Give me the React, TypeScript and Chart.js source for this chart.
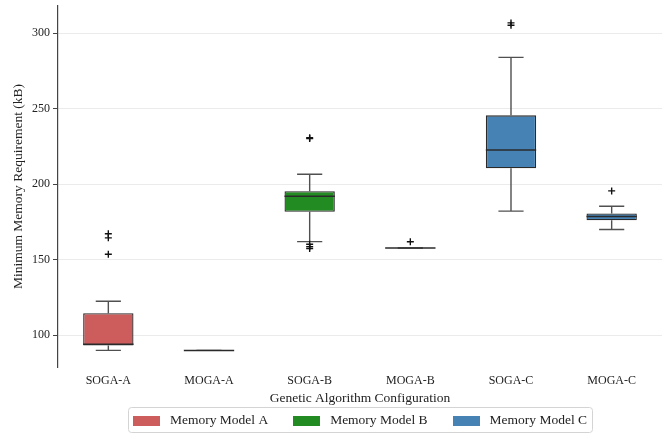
import React, { useEffect, useRef } from "react";
import { Chart, registerables } from "chart.js";

Chart.register(...registerables);

const categories = ["SOGA-A", "MOGA-A", "SOGA-B", "MOGA-B", "SOGA-C", "MOGA-C"];
const whiskerLow = [90, 90, 162, 157.8, 182.2, 170];
const q1 = [93.2, 90, 181.8, 157.8, 210.6, 176.2];
const medians = [94, 90, 192.1, 157.8, 222.6, 178.6];
const q3 = [114.6, 90, 195.4, 157.8, 245.6, 180.6];
const whiskerHigh = [122.5, 90, 206.6, 157.8, 284, 185.4];
const outlierCats = ["SOGA-A", "SOGA-A", "SOGA-A", "SOGA-B", "SOGA-B", "SOGA-B", "SOGA-B", "SOGA-B", "MOGA-B", "SOGA-C", "SOGA-C", "MOGA-C"];
const outlierVals = [153.6, 164.5, 167.2, 230.2, 230.8, 160.3, 158.6, 157.4, 161.9, 305.3, 306.8, 195.6];
const groupNames = ["Memory Model A", "Memory Model B", "Memory Model C"];
const groupColors = ["#cd5c5c", "#228b22", "#4682b4"];
const groupOfCategory = [0, 0, 1, 1, 2, 2];
const yMin = 79;
const yMax = 318;
const yTicks = [100, 150, 200, 250, 300];

const FONT = "'Liberation Serif', serif";
const LEGEND_FONT_SIZE = 13.5;

const boxPlugin = {
  id: "boxParts",
  beforeDatasetsDraw(chart: any) {
    const ctx = chart.ctx;
    const x = chart.scales.x;
    const y = chart.scales.y;
    const barW = (x.width / categories.length) * 0.5;
    ctx.save();
    ctx.strokeStyle = "#505050";
    ctx.lineWidth = 1.4;
    categories.forEach((c, i) => {
      const cx = x.getPixelForValue(i);
      const yl = y.getPixelForValue(whiskerLow[i]);
      const yq1 = y.getPixelForValue(q1[i]);
      const yq3 = y.getPixelForValue(q3[i]);
      const yh = y.getPixelForValue(whiskerHigh[i]);
      ctx.beginPath();
      ctx.moveTo(cx, yl);
      ctx.lineTo(cx, yq1);
      ctx.moveTo(cx, yq3);
      ctx.lineTo(cx, yh);
      ctx.moveTo(cx - barW / 4, yl);
      ctx.lineTo(cx + barW / 4, yl);
      ctx.moveTo(cx - barW / 4, yh);
      ctx.lineTo(cx + barW / 4, yh);
      ctx.stroke();
    });
    ctx.restore();
  },
  afterDatasetsDraw(chart: any) {
    const ctx = chart.ctx;
    const x = chart.scales.x;
    const y = chart.scales.y;
    const barW = (x.width / categories.length) * 0.5;
    ctx.save();
    ctx.strokeStyle = "#2a2a2a";
    ctx.lineWidth = 1.5;
    categories.forEach((c, i) => {
      const cx = x.getPixelForValue(i);
      const ym = y.getPixelForValue(medians[i]);
      ctx.beginPath();
      ctx.moveTo(cx - barW / 2, ym);
      ctx.lineTo(cx + barW / 2, ym);
      ctx.stroke();
    });
    ctx.restore();
  },
  afterDraw(chart: any) {
    // Legend below the plot, centred on the plot area
    const ctx = chart.ctx;
    const area = chart.chartArea;
    ctx.save();
    ctx.font = `${LEGEND_FONT_SIZE}px ${FONT}`;
    const rectW = 27, rectH = 10, gapText = 10, gapItem = 25, padX = 5;
    const widths = groupNames.map((n) => ctx.measureText(n).width);
    const total = widths.reduce((a, w) => a + rectW + gapText + w, 0) + gapItem * (groupNames.length - 1);
    const cxMid = (area.left + area.right) / 2;
    const boxL = cxMid - total / 2 - padX;
    const boxT = 407;
    const boxH = 25;
    const boxW = total + padX * 2;
    ctx.strokeStyle = "#d4d4d4";
    ctx.lineWidth = 1;
    ctx.fillStyle = "#ffffff";
    ctx.beginPath();
    if (ctx.roundRect) ctx.roundRect(Math.round(boxL) + 0.5, boxT + 0.5, Math.round(boxW), boxH, 3);
    else ctx.rect(Math.round(boxL) + 0.5, boxT + 0.5, Math.round(boxW), boxH);
    ctx.fill();
    ctx.stroke();
    let xPos = boxL + padX;
    const midY = boxT + boxH / 2 + 1;
    groupNames.forEach((n, g) => {
      ctx.fillStyle = groupColors[g];
      ctx.fillRect(Math.round(xPos), Math.round(midY - rectH / 2), rectW, rectH);
      ctx.fillStyle = "#222";
      ctx.textBaseline = "middle";
      ctx.textAlign = "left";
      ctx.fillText(n, xPos + rectW + gapText, midY);
      xPos += rectW + gapText + widths[g] + gapItem;
    });
    ctx.restore();
  },
};

export default function App() {
  const ref = useRef<HTMLCanvasElement | null>(null);
  useEffect(() => {
    if (!ref.current) return;
    const boxDatasets = groupNames.map((name, g) => ({
      type: "bar" as const,
      label: name,
      data: categories.map((c, i) => (groupOfCategory[i] === g ? [q1[i], q3[i]] : null)),
      backgroundColor: groupColors[g],
      borderColor: "#2a2a2a",
      borderWidth: 1.3,
      borderSkipped: false,
      grouped: false,
      barPercentage: 0.5,
      categoryPercentage: 1,
    }));
    const outlierDataset = {
      type: "line" as const,
      label: "outliers",
      data: outlierCats.map((c, i) => ({ x: c, y: outlierVals[i] })),
      showLine: false,
      pointStyle: "cross",
      pointRadius: 3.5,
      pointBorderColor: "#111",
      pointBorderWidth: 1.4,
      pointBackgroundColor: "#111",
    };
    const chart = new Chart(ref.current, {
      type: "bar",
      data: { labels: categories, datasets: [...boxDatasets, outlierDataset] as any },
      options: {
        animation: false,
        responsive: true,
        maintainAspectRatio: false,
        layout: { padding: { top: 6, right: 8, left: 4, bottom: 30 } },
        plugins: {
          tooltip: { enabled: false },
          legend: { display: false },
        },
        scales: {
          x: {
            type: "category",
            offset: true,
            afterFit: (s: any) => { s.height = 37; },
            grid: { display: false, drawTicks: false, tickLength: 0 },
            border: { display: false },
            ticks: { color: "#222", font: { family: FONT, size: 12 }, padding: 7 },
            title: { display: true, text: "Genetic Algorithm Configuration", color: "#222", font: { family: FONT, size: 13.5 }, padding: { top: 0, bottom: -3 } },
          },
          y: {
            min: yMin,
            max: yMax,
            afterBuildTicks: (s: any) => { s.ticks = yTicks.map((v) => ({ value: v })); },
            afterFit: (s: any) => { s.width = 54; s.paddingTop = 0; s.paddingBottom = 0; },
            grid: { color: "#ebebeb", tickColor: "#444", tickLength: 5, lineWidth: 1 },
            border: { display: true, color: "#444", width: 1.2 },
            ticks: { color: "#222", font: { family: FONT, size: 12 }, padding: 3 },
            title: { display: true, text: "Minimum Memory Requirement (kB)", color: "#222", font: { family: FONT, size: 13.5 }, padding: { top: 6, bottom: 2 } },
          },
        },
      },
      plugins: [boxPlugin],
    });
    return () => chart.destroy();
  }, []);
  return (
    <div style={{ position: "absolute", left: 0, top: 0, width: 670, height: 434 }}>
      <canvas ref={ref} />
    </div>
  );
}
